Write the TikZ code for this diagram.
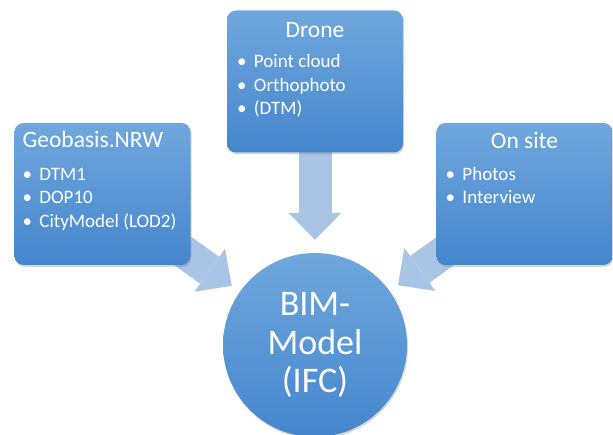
\documentclass[tikz,border=0pt]{standalone}
\usepackage{fontspec}
\setmainfont{Carlito}
\usetikzlibrary{positioning,arrows.meta,shadows,backgrounds}

\definecolor{boxtop}{RGB}{112,167,221}
\definecolor{boxbot}{RGB}{68,134,205}
\definecolor{arrowblue}{RGB}{170,196,229}

\newcommand{\itembullet}{\makebox[17pt][l]{\textbullet}}

\tikzset{
  source/.style={rounded corners=9pt, top color=boxtop, bottom color=boxbot,
    minimum width=176pt, minimum height=142pt, inner sep=0pt,
    drop shadow={opacity=.3, shadow xshift=1pt, shadow yshift=-2pt}},
  boxtitle/.style={inner sep=0pt, text=white, font=\fontsize{23.5}{27}\selectfont},
  listitem/.style={anchor=base west, inner sep=0pt, text=white,
    font=\fontsize{19}{23}\selectfont},
  model/.style={circle, minimum size=184pt, inner sep=0pt, top color=boxtop,
    bottom color=boxbot, text=white, align=center,
    font=\fontsize{36}{38.5}\selectfont,
    drop shadow={opacity=.3, shadow xshift=1pt, shadow yshift=-2pt}},
  feed/.style={line width=33pt, draw=arrowblue,
    -{Triangle[length=27pt, width=53pt, line width=0pt]}}
}

\begin{document}
\begin{tikzpicture}[on grid]
    \useasboundingbox (0,0) rectangle (613pt,-435pt);
    \node[model]  (bim)   at (315pt,-345pt) {BIM-\\Model\\(IFC)};
    \node[source] (drone) [above=263.5pt of bim] {};
    \node[source] (geo)   [above left=151pt and 212.5pt of bim] {};
    \node[source] (site)  [above right=151pt and 209.5pt of bim] {};

    % titles
    \node[boxtitle, anchor=base west, xshift=8pt, yshift=-25pt] (geotitle) at (geo.north west) {Geobasis.NRW};
    \node[boxtitle, anchor=base, yshift=-27pt] (dronetitle) at (drone.north) {Drone};
    \node[boxtitle, anchor=base, yshift=-26pt] (sitetitle) at (site.north) {On site};

    % lists
    \node[listitem, xshift=8pt, yshift=-57.5pt] (geo1) at (geo.north west) {\itembullet DTM1};
    \node[listitem, xshift=8pt, yshift=-81pt] (geo2) at (geo.north west) {\itembullet DOP10};
    \node[listitem, xshift=8pt, yshift=-104.5pt] (geo3) at (geo.north west) {\itembullet CityModel (LOD2)};
    \node[listitem, xshift=10pt, yshift=-57.5pt] (drone1) at (drone.north west) {\itembullet Point cloud};
    \node[listitem, xshift=10pt, yshift=-81pt] (drone2) at (drone.north west) {\itembullet Orthophoto};
    \node[listitem, xshift=10pt, yshift=-104.5pt] (drone3) at (drone.north west) {\itembullet (DTM)};
    \node[listitem, xshift=9pt, yshift=-57.5pt] (site1) at (site.north west) {\itembullet Photos};
    \node[listitem, xshift=9pt, yshift=-81pt] (site2) at (site.north west) {\itembullet Interview};

    \begin{scope}[on background layer]
        \draw[feed, shorten >=13pt] (drone.center) -- (bim);
        \draw[feed, shorten >=10pt] (geo.center) -- (bim);
        \draw[feed, shorten >=10pt] (site.center) -- (bim);
    \end{scope}
\end{tikzpicture}
\end{document}
